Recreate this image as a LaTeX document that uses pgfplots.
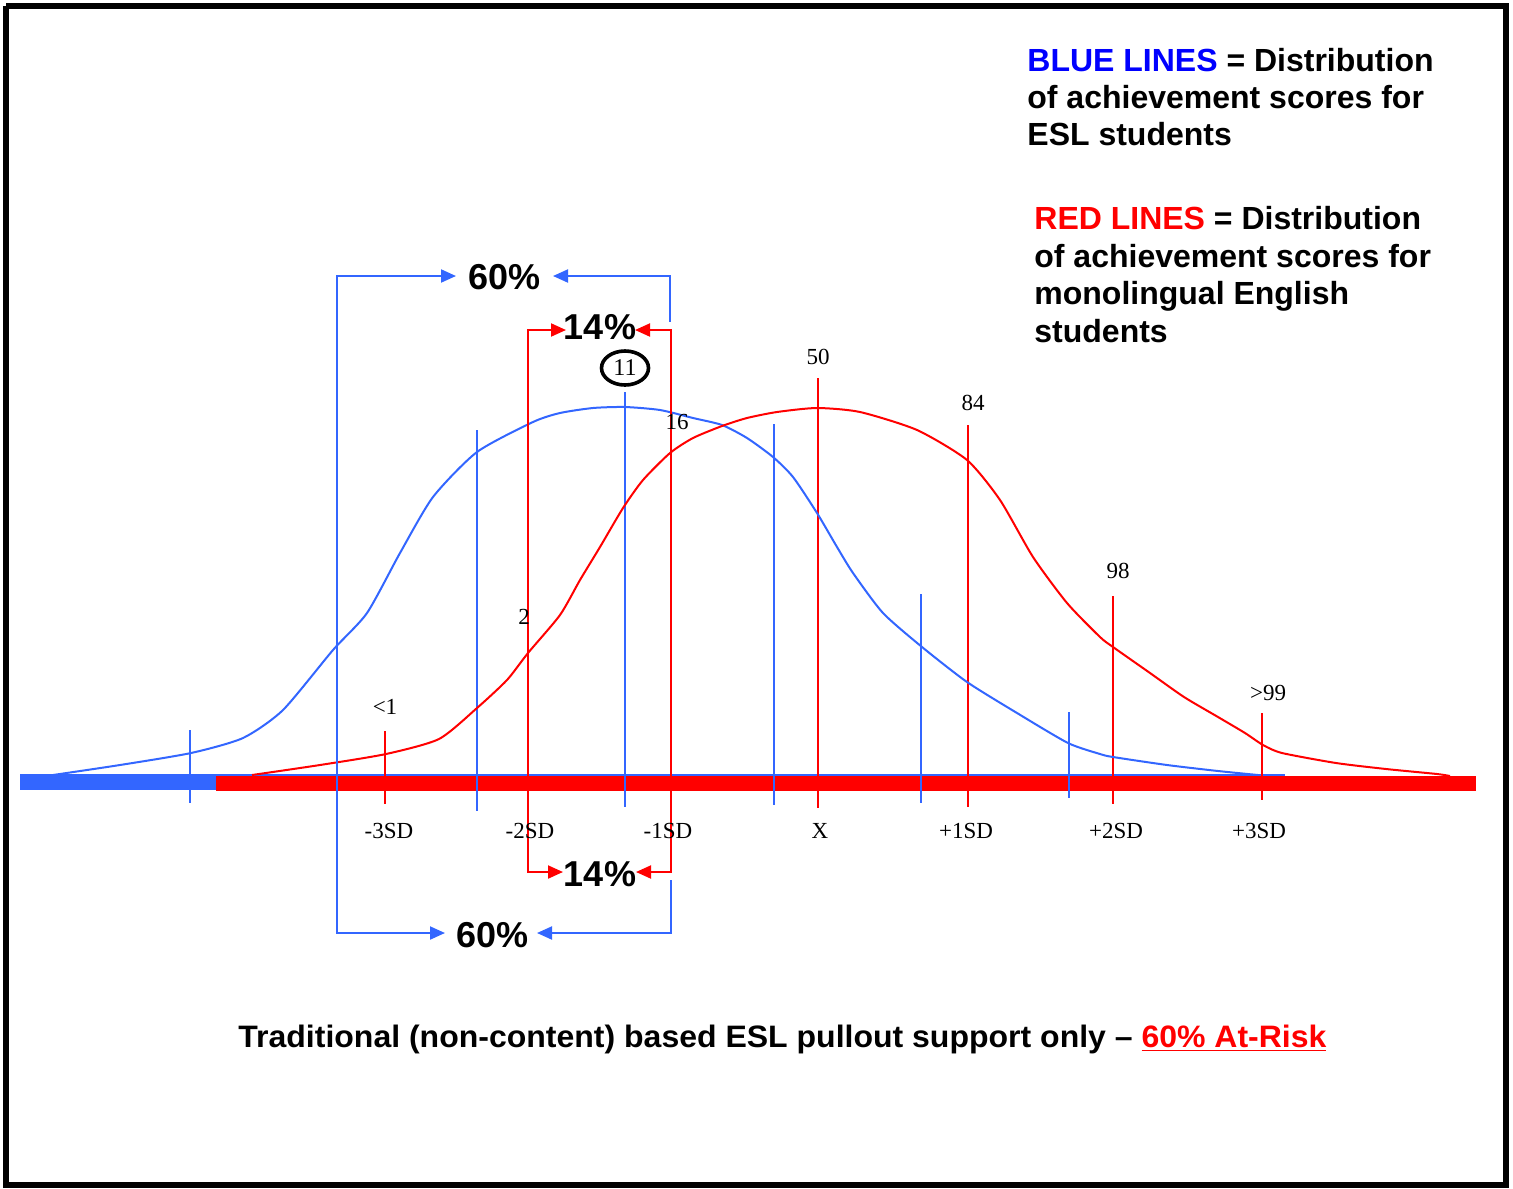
\documentclass[border=0pt]{standalone}
\usepackage{pgfplots}
\pgfplotsset{compat=1.18}
\usetikzlibrary{arrows.meta,shapes.geometric}
\usepackage{fontspec}
\usepackage{graphicx}
\setmainfont{Liberation Serif}
\newfontfamily\arial{Liberation Sans}
\definecolor{bl}{RGB}{51,102,255}
\definecolor{rd}{RGB}{255,0,0}
\definecolor{pureblue}{RGB}{0,0,255}
\begin{document}
\begin{tikzpicture}
\begin{axis}[
  scale only axis, width=756.5pt, height=594pt,
  xmin=0, xmax=1513, ymin=0, ymax=1188, y dir=reverse,
  hide axis, clip=false,
  every axis plot/.append style={line width=1pt},
]
% frame
\addplot[black, line width=3pt] coordinates {(6,6)(1506,6)(1506,1185)(6,1185)(6,6)};
% thin blue baseline
\addplot[bl] coordinates {(20,775)(1285,775)};
% thick bars
\addplot[bl, line width=7.5pt] coordinates {(20,782.5)(216,782.5)};
\addplot[rd, line width=7.5pt] coordinates {(216,783)(1476,783)};
% blue verticals
\addplot[bl] coordinates {(190,730)(190,803)};
\addplot[bl] coordinates {(477,430)(477,811)};
\addplot[bl] coordinates {(625,392)(625,807)};
\addplot[bl] coordinates {(774,424)(774,805)};
\addplot[bl] coordinates {(921,594)(921,803)};
\addplot[bl] coordinates {(1069,712)(1069,798)};
% red verticals
\addplot[rd] coordinates {(385,731)(385,804)};
\addplot[rd] coordinates {(818,378)(818,808)};
\addplot[rd] coordinates {(968,425)(968,807)};
\addplot[rd] coordinates {(1113,596)(1113,804)};
\addplot[rd] coordinates {(1262,713)(1262,800)};
% blue curve
\addplot[bl, smooth, tension=0.4] coordinates {
(53,775)(120,765)(191,753)(243,738)(283,710)(333,650)(367,613)(400,553)
(433,497)(477,452)(533,422)(560,413)(593,408)(625,407)(660,410)(693,418)
(722,425)(747,438)(773,457)(793,477)(817,513)(837,547)(853,573)(883,613)
(922,647)(967,682)(1017,713)(1068,743)(1100,754)(1113,757)(1167,765)
(1218,771)(1258,775)};
% red curve
\addplot[rd, smooth, tension=0.4] coordinates {
(252,775)(320,765)(386,754)(439,739)(477,708)(507,680)(528,653)(560,615)
(580,580)(600,547)(623,508)(643,480)(670,453)(693,438)(722,426)(747,418)
(777,412)(817,408)(860,412)(917,430)(967,460)(1000,500)(1033,557)(1067,603)
(1100,637)(1113,647)(1150,673)(1184,697)(1218,717)(1245,733)(1263,745)
(1282,753)(1336,763)(1386,769)(1437,774)(1450,776)};
% blue 60% brackets
\addplot[bl, {Triangle[length=7.5pt,width=6.5pt]}-{Triangle[length=7.5pt,width=6.5pt]}]
  coordinates {(456,276)(337,276)(337,933)(445,933)};
\addplot[bl, {Triangle[length=7.5pt,width=6.5pt]}-]
  coordinates {(553,276)(670,276)(670,322)};
\addplot[bl, -{Triangle[length=7.5pt,width=6.5pt]}]
  coordinates {(671,880)(671,933)(537,933)};
% red 14% brackets
\addplot[rd, {Triangle[length=7.5pt,width=6.5pt]}-{Triangle[length=7.5pt,width=6.5pt]}]
  coordinates {(566,330)(528,330)(528,872)(563,872)};
\addplot[rd, {Triangle[length=7.5pt,width=6.5pt]}-{Triangle[length=7.5pt,width=6.5pt]}]
  coordinates {(635,330)(671,330)(671,872)(636,872)};
% percent labels
\node[font=\arial\bfseries\fontsize{18}{20}\selectfont] at (axis cs:504.5,277.5) {60\%};
\node[font=\arial\bfseries\fontsize{18}{20}\selectfont] at (axis cs:600,327) {14\%};
\node[font=\arial\bfseries\fontsize{18}{20}\selectfont] at (axis cs:600,874) {14\%};
\node[font=\arial\bfseries\fontsize{18}{20}\selectfont] at (axis cs:492.5,935) {60\%};
% circled 11
\node[draw, ellipse, line width=1.8pt, minimum width=23.5pt, minimum height=17pt, inner sep=0pt,
      font=\fontsize{12}{12}\selectfont] at (axis cs:625,368) {11};
% serif numbers
\begin{scope}[every node/.style={font=\fontsize{11.5}{12}\selectfont, inner sep=0pt}]
\node at (axis cs:818,357) {50};
\node at (axis cs:973,403) {84};
\node at (axis cs:1118,571) {98};
\node at (axis cs:1268,693) {>99};
\node at (axis cs:385,707) {<1};
\node at (axis cs:524,617) {2};
\node at (axis cs:677,422) {16};
\node at (axis cs:389,831) {-3SD};
\node at (axis cs:530,831) {-2SD};
\node at (axis cs:668,831) {-1SD};
\node at (axis cs:820,831) {X};
\node at (axis cs:966,831) {+1SD};
\node at (axis cs:1116,831) {+2SD};
\node at (axis cs:1259,831) {+3SD};
\end{scope}
% legend text
\begin{scope}[every node/.style={font=\arial\bfseries\fontsize{16}{19}\selectfont, inner sep=0pt, anchor=base west}]
\node at (axis cs:1027,71) {\textcolor{pureblue}{BLUE LINES} = Distribution};
\node at (axis cs:1027,108) {of achievement scores for};
\node at (axis cs:1027,145) {ESL students};
\node at (axis cs:1034,229) {\textcolor{rd}{RED LINES} = Distribution};
\node at (axis cs:1034,267) {of achievement scores for};
\node at (axis cs:1034,304) {monolingual English};
\node at (axis cs:1034,342) {students};
\end{scope}
% footer
\node[anchor=base west, inner sep=0pt] at (axis cs:238,1047)
  {\resizebox{544pt}{\height}{\arial\bfseries\fontsize{15.5}{18}\selectfont Traditional (non-content) based ESL pullout support only – \textcolor{rd}{\underline{60\% At-Risk}}}};
\end{axis}
\pgfresetboundingbox
\path (0,0) rectangle (756.5pt,594pt);
\end{tikzpicture}
\end{document}
